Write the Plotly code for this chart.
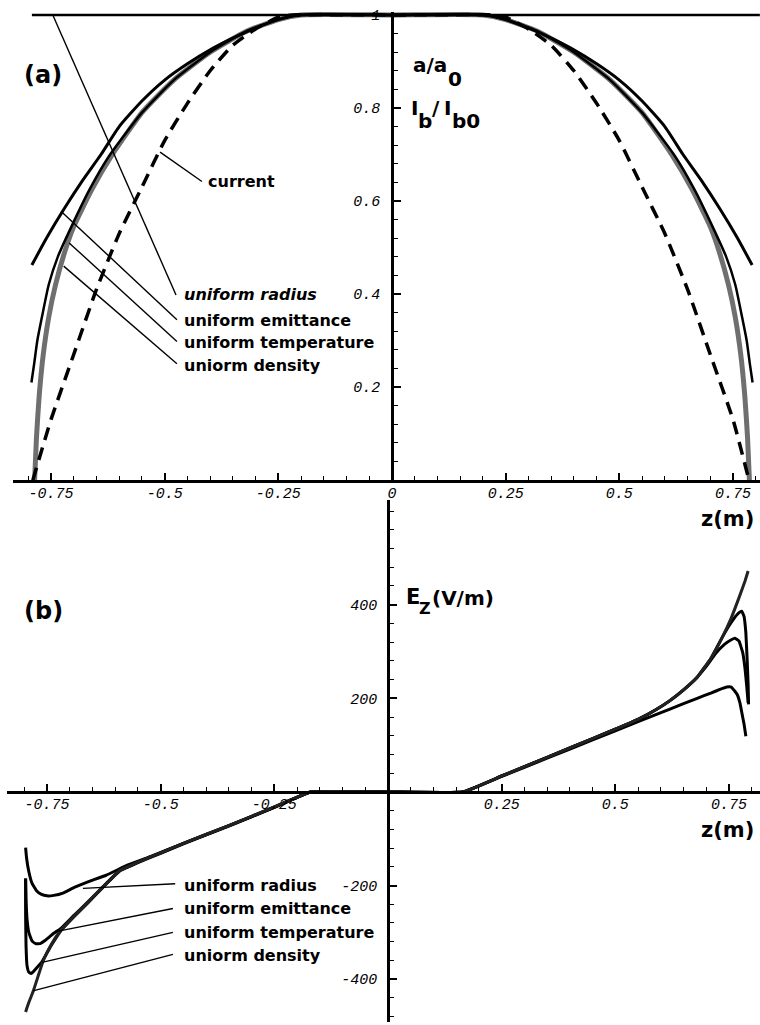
import plotly.graph_objects as go

# ---------------- data: panel (a) ----------------
z_radius_a = [-0.792, 0.809]
v_radius_a = [1.0, 1.0]

z_current = [-0.79, -0.75, -0.70, -0.65, -0.60, -0.55, -0.50, -0.45, -0.40, -0.35, -0.30, -0.25, -0.22, 0.0,
             0.22, 0.25, 0.30, 0.35, 0.40, 0.45, 0.50, 0.55, 0.60, 0.65, 0.70, 0.75, 0.785]
v_current = [0.0, 0.13, 0.27, 0.41, 0.53, 0.63, 0.73, 0.81, 0.88, 0.935, 0.97, 0.995, 1.0, 1.0,
             1.0, 0.995, 0.97, 0.935, 0.88, 0.81, 0.73, 0.63, 0.53, 0.41, 0.27, 0.13, 0.0]

z_emit_a = [-0.792, -0.76, -0.72, -0.68, -0.64, -0.60, -0.55, -0.50, -0.45, -0.40, -0.35, -0.30, -0.25, -0.21, 0.0,
            0.21, 0.25, 0.30, 0.35, 0.40, 0.45, 0.50, 0.55, 0.60, 0.64, 0.68, 0.72, 0.76, 0.792]
v_emit_a = [0.4625, 0.52, 0.585, 0.645, 0.70, 0.76, 0.815, 0.86, 0.895, 0.925, 0.95, 0.972, 0.99, 1.0, 1.0,
            1.0, 0.99, 0.972, 0.95, 0.925, 0.895, 0.86, 0.815, 0.76, 0.70, 0.645, 0.585, 0.52, 0.4625]

z_temp_a = [-0.793, -0.787, -0.780, -0.770, -0.755, -0.735, -0.705, -0.665, -0.62, -0.55, -0.48, -0.40, -0.32, -0.25, -0.20, 0.0,
            0.20, 0.25, 0.32, 0.40, 0.48, 0.55, 0.62, 0.665, 0.705, 0.735, 0.755, 0.770, 0.780, 0.787, 0.793]
v_temp_a = [0.21, 0.25, 0.30, 0.35, 0.42, 0.48, 0.545, 0.625, 0.70, 0.79, 0.86, 0.92, 0.965, 0.99, 1.0, 1.0,
            1.0, 0.99, 0.965, 0.92, 0.86, 0.79, 0.70, 0.625, 0.545, 0.48, 0.42, 0.35, 0.30, 0.25, 0.21]

z_dens_a = [-0.786, -0.782, -0.776, -0.767, -0.755, -0.74, -0.72, -0.70, -0.66, -0.615, -0.55, -0.48, -0.40, -0.32, -0.25, -0.20, 0.0,
            0.20, 0.25, 0.32, 0.40, 0.48, 0.55, 0.615, 0.66, 0.70, 0.72, 0.74, 0.755, 0.767, 0.776, 0.782, 0.786]
v_dens_a = [0.0, 0.09, 0.18, 0.27, 0.35, 0.42, 0.49, 0.545, 0.625, 0.70, 0.79, 0.86, 0.92, 0.965, 0.99, 1.0, 1.0,
            1.0, 0.99, 0.965, 0.92, 0.86, 0.79, 0.70, 0.625, 0.545, 0.49, 0.42, 0.35, 0.27, 0.18, 0.09, 0.0]

# ---------------- data: panel (b) ----------------
z_radius_b = [-0.797, -0.795, -0.790, -0.783, -0.773, -0.762, -0.750, -0.735, -0.715, -0.69, -0.66, -0.62, -0.572, -0.52,
              -0.45, -0.35, -0.25, -0.17, 0.0, 0.165, 0.25, 0.35, 0.45, 0.55, 0.62, 0.68, 0.71, 0.73, 0.745, 0.755,
              0.762, 0.768, 0.774, 0.778, 0.783, 0.787]
v_radius_b = [-119, -140, -170, -195, -211, -219, -222, -221, -216, -204, -192, -178, -156, -137,
              -110, -72, -33, 0, 0, 0, 33, 72, 111, 150, 177, 200, 211, 219, 224, 224,
              216, 208, 190, 170, 145, 119]

z_emit_b = [-0.797, -0.796, -0.794, -0.790, -0.783, -0.775, -0.765, -0.755, -0.745, -0.735, -0.72, -0.69, -0.66, -0.62,
            -0.59, -0.55, -0.50, -0.45, -0.35, -0.25, -0.17, 0.0, 0.165, 0.25, 0.35, 0.45, 0.50, 0.55, 0.59, 0.62,
            0.65, 0.68, 0.70, 0.72, 0.74, 0.755, 0.763, 0.772, 0.780, 0.785, 0.789, 0.792]
v_emit_b = [-185, -230, -270, -300, -318, -324, -324, -318, -310, -302, -292, -263, -235, -196,
            -168, -150, -130, -110, -72, -32, 0, 0, 0, 34, 74, 114, 134, 155, 176, 195,
            218, 245, 268, 295, 315, 325, 328, 322, 298, 265, 225, 190]

z_temp_b = [-0.797, -0.797, -0.796, -0.794, -0.790, -0.785, -0.780, -0.772, -0.762, -0.74, -0.72, -0.69, -0.66, -0.62,
            -0.59, -0.55, -0.50, -0.45, -0.35, -0.25, -0.17, 0.0, 0.165, 0.25, 0.35, 0.45, 0.50, 0.55, 0.59, 0.62,
            0.65, 0.68, 0.71, 0.735, 0.75, 0.762, 0.772, 0.778, 0.783, 0.787, 0.790, 0.792, 0.793]
v_temp_b = [-185, -260, -330, -370, -385, -388, -384, -375, -364, -327, -297, -266, -237, -197,
            -169, -151, -131, -111, -73, -33, 0, 0, 0, 34, 74, 114, 134, 155, 176, 195,
            218, 245, 285, 330, 355, 372, 383, 386, 375, 340, 280, 230, 187]

z_dens_b = [-0.797, -0.790, -0.780, -0.770, -0.758, -0.74, -0.72, -0.69, -0.66, -0.62, -0.59, -0.55, -0.50, -0.45,
            -0.35, -0.25, -0.17, 0.0, 0.165, 0.25, 0.35, 0.45, 0.50, 0.55, 0.59, 0.62, 0.65, 0.68, 0.71, 0.735,
            0.755, 0.772, 0.785, 0.792]
v_dens_b = [-470, -450, -425, -395, -360, -325, -296, -265, -236, -196, -168, -150, -130, -110,
            -72, -32, 0, 0, 0, 34, 74, 114, 134, 155, 176, 195, 218, 245, 285, 330,
            372, 415, 450, 472]

# ---------------- ticks ----------------
xticks_a = [-0.75, -0.5, -0.25, 0, 0.25, 0.5, 0.75]
xticktext_a = ["-0.75", "-0.5", "-0.25", "0", "0.25", "0.5", "0.75"]
yticks_a = [0.2, 0.4, 0.6, 0.8, 1.0]
yticktext_a = ["0.2", "0.4", "0.6", "0.8", "1"]
xticks_b = [-0.75, -0.5, -0.25, 0.25, 0.5, 0.75]
xticktext_b = ["-0.75", "-0.5", "-0.25", "0.25", "0.5", "0.75"]
yticks_b = [-400, -200, 200, 400]
yticktext_b = ["-400", "-200", "200", "400"]

labels = ["uniform radius", "uniform emittance", "uniform temperature", "uniorm density"]

W, H = 760, 1025
BOLD = "DejaVu Sans"
MONO = "Liberation Mono"

fig = go.Figure()

def smooth_line(color, width, dash=None):
    d = dict(color=color, width=width, shape="spline", smoothing=0.5)
    if dash:
        d["dash"] = dash
    return d

# panel (a) traces
fig.add_trace(go.Scatter(x=z_dens_a, y=v_dens_a, mode="lines", line=smooth_line("#6f6f6f", 5),
                         xaxis="x", yaxis="y", cliponaxis=False, hoverinfo="skip"))
fig.add_trace(go.Scatter(x=z_temp_a, y=v_temp_a, mode="lines", line=smooth_line("black", 2.5),
                         xaxis="x", yaxis="y", cliponaxis=False, hoverinfo="skip"))
fig.add_trace(go.Scatter(x=z_emit_a, y=v_emit_a, mode="lines", line=smooth_line("black", 3),
                         xaxis="x", yaxis="y", cliponaxis=False, hoverinfo="skip"))
fig.add_trace(go.Scatter(x=z_current, y=v_current, mode="lines", line=smooth_line("black", 3.5, "13px,8px"),
                         xaxis="x", yaxis="y", cliponaxis=False, hoverinfo="skip"))
fig.add_trace(go.Scatter(x=z_radius_a, y=v_radius_a, mode="lines", line=dict(color="black", width=2.5),
                         xaxis="x", yaxis="y", cliponaxis=False, hoverinfo="skip"))

# panel (b) traces
for zz, vv, col in [(z_radius_b, v_radius_b, "black"), (z_emit_b, v_emit_b, "black"),
                    (z_temp_b, v_temp_b, "black"), (z_dens_b, v_dens_b, "#222222")]:
    fig.add_trace(go.Scatter(x=zz, y=vv, mode="lines",
                             line=dict(color=col, width=3, shape="spline", smoothing=0.3),
                             xaxis="x2", yaxis="y2", cliponaxis=False, hoverinfo="skip"))

axis_common = dict(showline=True, linecolor="black", linewidth=2.5, ticks="inside", ticklen=7,
                   tickwidth=1.5, tickcolor="black", showgrid=False, zeroline=False,
                   tickfont=dict(family=MONO, size=15, color="black", style="italic"))

# geometry (pixels)
xa_dom = [13 / W, 1.0]
xa_range = [(13 - 392) / 454.7, (760 - 392) / 454.7]
ya_dom = [(H - 478) / H, (H - 8) / H]
ya_range = [0, (478 - 8) / 467.0]

xb_dom = [7 / W, 1.0]
xb_range = [(7 - 388) / 454.7, (760 - 388) / 454.7]
yb_dom = [(H - 1022) / H, (H - 498) / H]
yb_range = [(791 - 1022) / 0.47, (791 - 498) / 0.47]

fig.update_layout(
    width=W, height=H, margin=dict(l=0, r=0, t=0, b=0),
    paper_bgcolor="white", plot_bgcolor="rgba(0,0,0,0)", showlegend=False,
    xaxis=dict(domain=xa_dom, range=xa_range, anchor="y", tickvals=xticks_a, ticktext=xticktext_a,
               minor=dict(ticks="inside", ticklen=4, tickwidth=1, tick0=0, dtick=0.05, tickcolor="black"),
               ticklabelstandoff=-3, **axis_common),
    yaxis=dict(domain=ya_dom, range=ya_range, anchor="free", position=392 / W, side="left",
               tickvals=yticks_a, ticktext=yticktext_a, ticklabelstandoff=8,
               minor=dict(ticks="inside", ticklen=4, tickwidth=1, tick0=0, dtick=0.04, tickcolor="black"),
               **axis_common),
    xaxis2=dict(domain=xb_dom, range=xb_range, anchor="free", position=(H - 791) / H,
                tickvals=xticks_b, ticktext=xticktext_b, ticklabelstandoff=-3,
                minor=dict(ticks="inside", ticklen=4, tickwidth=1, tick0=0, dtick=0.05, tickcolor="black"),
                **axis_common),
    yaxis2=dict(domain=yb_dom, range=yb_range, anchor="free", position=388 / W, side="left",
                tickvals=yticks_b, ticktext=yticktext_b, ticklabelstandoff=7,
                minor=dict(ticks="inside", ticklen=4, tickwidth=1, tick0=0, dtick=40, tickcolor="black"),
                **axis_common),
)

# leader lines (tail at label, head on curve)
leaders_a = [((-0.475, 0.398), (-0.746, 1.0)),
             ((-0.473, 0.345), (-0.728, 0.578)),
             ((-0.473, 0.298), (-0.71, 0.51)),
             ((-0.473, 0.250), (-0.722, 0.46)),
             ((-0.418, 0.642), (-0.51, 0.705))]
leaders_b = [((-0.468, -196), (-0.671, -206)),
             ((-0.473, -249), (-0.728, -298)),
             ((-0.473, -300), (-0.761, -364)),
             ((-0.473, -347), (-0.781, -425))]
shapes = []
for (x0, y0), (x1, y1) in leaders_a:
    shapes.append(dict(type="line", xref="x", yref="y", x0=x0, y0=y0, x1=x1, y1=y1,
                       line=dict(color="black", width=1.4)))
for (x0, y0), (x1, y1) in leaders_b:
    shapes.append(dict(type="line", xref="x2", yref="y2", x0=x0, y0=y0, x1=x1, y1=y1,
                       line=dict(color="black", width=1.4)))
fig.update_layout(shapes=shapes)

ann = []
def txt(text, x, y, size, xanchor="left", xref="paper", yref="paper", style="normal"):
    ann.append(dict(text=text, x=x, y=y, xref=xref, yref=yref, xanchor=xanchor, yanchor="middle",
                    showarrow=False, font=dict(family=BOLD, size=size, color="black", weight="bold", style=style)))

def P(px, py):
    return px / W, 1 - py / H

# panel (a) labels
lab_y_a = [0.398, 0.343, 0.296, 0.246]
for i, (lab, yy) in enumerate(zip(labels, lab_y_a)):
    txt(lab, -0.462, yy, 16, xref="x", yref="y", style="italic" if i == 0 else "normal")
txt("current", -0.408, 0.642, 16, xref="x", yref="y")

# panel (b) labels
lab_y_b = [-200, -249, -300, -349]
for lab, yy in zip(labels, lab_y_b):
    txt(lab, -0.453, yy, 16, xref="x2", yref="y2")

x, y = P(43, 71); txt("(a)", x, y, 24, xanchor="center")
x, y = P(43, 609); txt("(b)", x, y, 24, xanchor="center")
x, y = P(411, 61); txt("a/a", x, y, 20)
x, y = P(446, 75); txt("0", x, y, 20)
x, y = P(409, 104); txt("I", x, y, 20)
x, y = P(416, 117); txt("b", x, y, 20)
x, y = P(430, 104); txt("/", x, y, 20)
x, y = P(442, 104); txt("I", x, y, 20)
x, y = P(450, 117); txt("b0", x, y, 20)
x, y = P(404, 595); txt("E", x, y, 21)
x, y = P(417, 607); txt("Z", x, y, 16)
x, y = P(430, 596); txt("(V/m)", x, y, 20)
x, y = P(727, 517); txt("z(m)", x, y, 21, xanchor="center")
x, y = P(727, 829); txt("z(m)", x, y, 21, xanchor="center")
fig.update_layout(annotations=ann)

fig.write_html("out.html")
